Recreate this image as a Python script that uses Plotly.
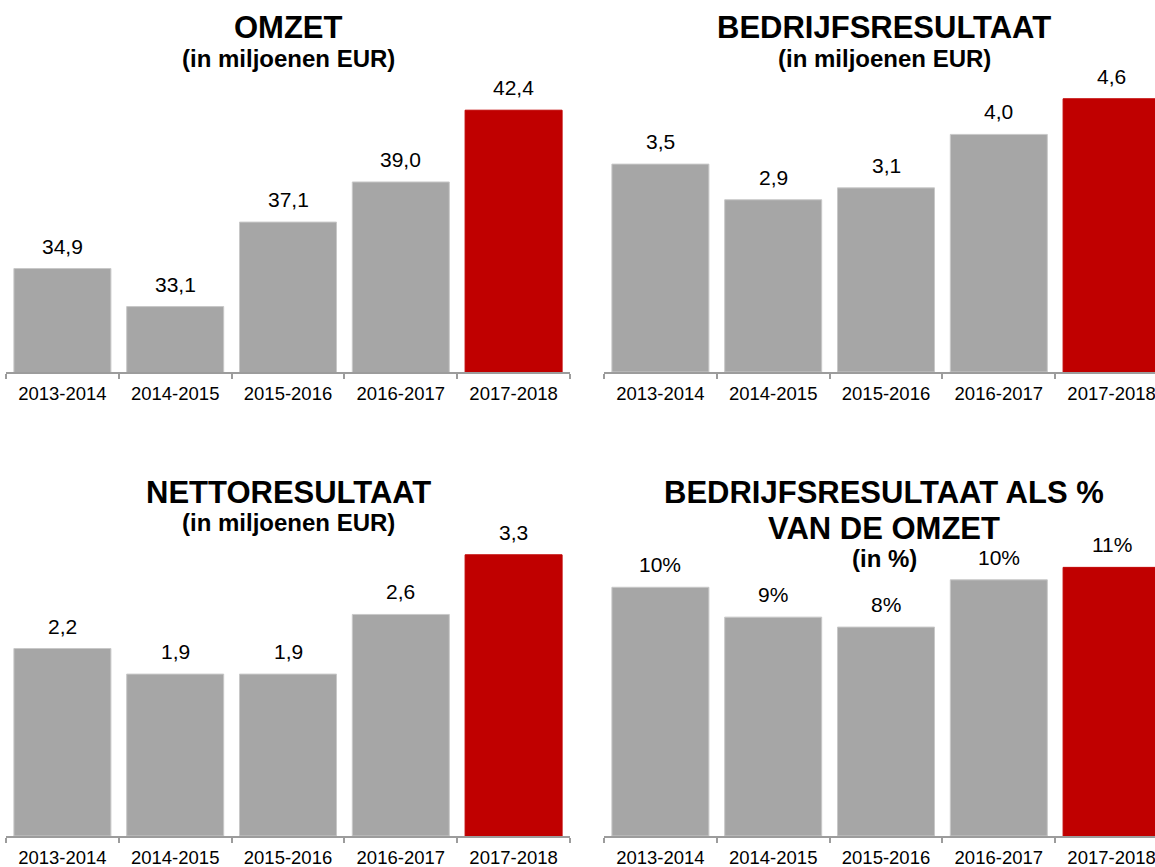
import plotly.graph_objects as go

categories = ["2013-2014", "2014-2015", "2015-2016", "2016-2017", "2017-2018"]

omzet = [34.9, 33.1, 37.1, 39.0, 42.4]
omzet_labels = ["34,9", "33,1", "37,1", "39,0", "42,4"]

bedrijf = [3.5, 2.9, 3.1, 4.0, 4.6]
bedrijf_labels = ["3,5", "2,9", "3,1", "4,0", "4,6"]

netto = [2.2, 1.9, 1.9, 2.6, 3.3]
netto_labels = ["2,2", "1,9", "1,9", "2,6", "3,3"]

pct = [10.0, 8.8, 8.4, 10.3, 10.8]
pct_labels = ["10%", "9%", "8%", "10%", "11%"]

W, H = 1155, 867
FONT = "Liberation Sans, Arial, sans-serif"
GRAY = "#a6a6a6"
RED = "#c00000"
colors = [GRAY, GRAY, GRAY, GRAY, RED]
edge = ["#c8c8c8", "#c8c8c8", "#c8c8c8", "#c8c8c8", RED]

def px_x(p):
    return p / W

def px_y(p):
    return 1 - p / H

panels = [
    # values, labels, xaxis, yaxis, x-domain px, y-domain px (top, bottom), yrange
    (omzet, omzet_labels, "x", "y", (6, 570), (80, 372), [30, 43.83]),
    (bedrijf, bedrijf_labels, "x2", "y2", (604, 1155), (80, 372), [0, 4.916]),
    (netto, netto_labels, "x3", "y3", (6, 570), (545, 836), [0, 3.415]),
    (pct, pct_labels, "x4", "y4", (604, 1155), (545, 836), [0, 11.70]),
]

fig = go.Figure()
annotations = []
layout = {}

for i, (vals, labs, xa, ya, xd, yd, yr) in enumerate(panels):
    fig.add_trace(go.Bar(
        x=categories, y=vals, xaxis=xa, yaxis=ya,
        marker=dict(color=colors, line=dict(color=edge, width=1)),
        hoverinfo="skip", showlegend=False,
    ))
    xname = "xaxis" if i == 0 else f"xaxis{i+1}"
    yname = "yaxis" if i == 0 else f"yaxis{i+1}"
    if xd[1] >= W:
        xrange = [-0.5, -0.5 + (xd[1] - xd[0]) / ((570 - 6) / 5)]
    else:
        xrange = [-0.5, 4.5]
    layout[xname] = dict(
        domain=[px_x(xd[0]), min(1, px_x(xd[1]))],
        anchor=ya,
        range=xrange, type="category",
        showline=True, linecolor="#9c9c9c", linewidth=1.5,
        ticks="outside", tickson="boundaries", ticklen=5, tickcolor="#9c9c9c",
        tickwidth=1.5, ticklabelstandoff=4,
        showgrid=False, zeroline=False,
        tickfont=dict(family=FONT, size=18.5, color="#000000"),
        fixedrange=True,
    )
    layout[yname] = dict(
        domain=[px_y(yd[1]), px_y(yd[0])],
        anchor=xa,
        range=yr, visible=False, showgrid=False, zeroline=False,
        fixedrange=True,
    )
    for c, v, t in zip(categories, vals, labs):
        annotations.append(dict(
            x=c, y=v, xref=xa, yref=ya, text=t, showarrow=False,
            yanchor="middle", xanchor="center", yshift=22.5,
            font=dict(family=FONT, size=21, color="#000000"),
        ))

titles = [
    ("<b>OMZET</b>", 288, 28, 31),
    ("<b>(in miljoenen EUR)</b>", 288, 58.4, 24),
    ("<b>BEDRIJFSRESULTAAT</b>", 884, 28, 31),
    ("<b>(in miljoenen EUR)</b>", 884, 58.4, 24),
    ("<b>NETTORESULTAAT</b>", 288, 492, 31),
    ("<b>(in miljoenen EUR)</b>", 288, 522.4, 24),
    ("<b>BEDRIJFSRESULTAAT ALS %</b>", 884, 492, 31),
    ("<b>VAN DE OMZET</b>", 884, 528.5, 31),
    ("<b>(in %)</b>", 884, 558.5, 24),
]
for t, x, y, s in titles:
    annotations.append(dict(
        x=px_x(x), y=px_y(y), xref="paper", yref="paper", text=t,
        showarrow=False, xanchor="center", yanchor="middle",
        font=dict(family=FONT, size=s, color="#000000"),
    ))

fig.update_layout(
    width=W, height=H,
    margin=dict(l=0, r=0, t=0, b=0),
    paper_bgcolor="white", plot_bgcolor="white",
    bargap=0.14,
    annotations=annotations,
    **layout,
)

fig.write_html(
    "out.html",
    config={"displayModeBar": False},
    post_script="document.body.style.margin='0';document.body.style.overflow='hidden';",
)
